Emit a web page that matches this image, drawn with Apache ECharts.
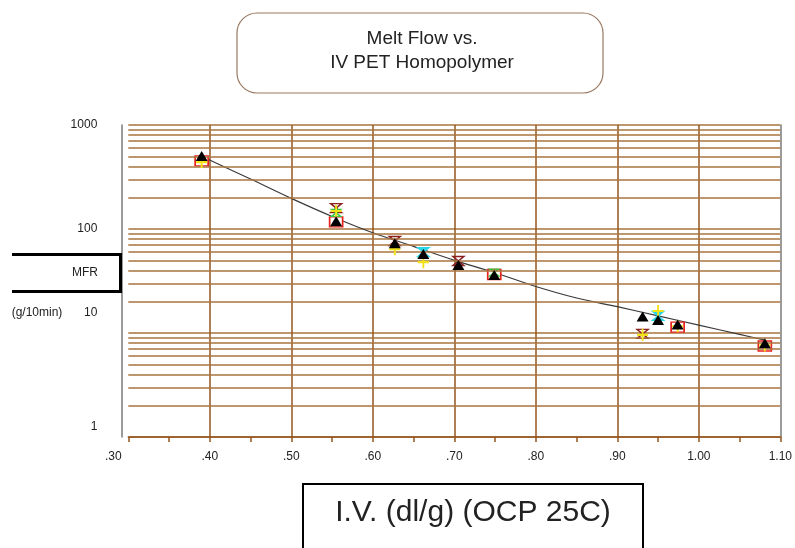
<!DOCTYPE html>
<html>
<head>
<meta charset="utf-8">
<script src="https://cdn.jsdelivr.net/npm/echarts@6/dist/echarts.min.js"></script>
<style>
  html, body { margin: 0; padding: 0; background: #fff; }
  #chart { width: 795px; height: 548px; }
</style>
</head>
<body>
<div id="chart"></div>
<script>
// black triangles (main series)
var ivTri = [0.39, 0.555, 0.627, 0.662, 0.705, 0.749, 0.931, 0.950, 0.974, 1.081];
var mfrTri = [503, 119, 72.8, 57.5, 45, 36.1, 14.4, 13.3, 12.1, 7.96];
// red open squares
var ivSquare = [0.39, 0.555, 0.749, 0.974, 1.081];
var mfrSquare = [451, 117, 36.5, 11.4, 7.5];
// yellow crosses
var ivPlus = [0.39, 0.555, 0.627, 0.662, 0.931, 0.950, 0.974, 1.081];
var mfrPlus = [440, 149, 64, 48, 9.6, 16.3, 11.6, 7.6];
// dark red hourglass
var ivHour = [0.555, 0.627, 0.705, 0.931];
var mfrHour = [159, 76.7, 49.2, 9.8];
// cyan marks
var ivCyan = [0.662, 0.950];
var mfrCyan = [60, 14.6];
// green marks
var ivGreen = [0.555, 0.749];
var mfrGreen = [143, 38];
// trend line
var fitIV = [0.39, 0.45, 0.50, 0.55, 0.60, 0.65, 0.70, 0.75, 0.80, 0.85, 0.90, 0.95, 1.00, 1.05, 1.08];
var fitMFR = [500, 302, 197, 132, 92, 68, 50, 38, 28, 21.7, 17.9, 14.6, 11.9, 9.7, 8.6];
// log paper lines between decades
var minorGrid = [2, 3, 4, 5, 6, 7, 8, 9, 20, 30, 40, 50, 60, 70, 80, 90, 200, 300, 400, 500, 600, 700, 800, 900];

function pairs(xs, ys) {
  var out = [];
  for (var i = 0; i < xs.length; i++) out.push([xs[i], ys[i]]);
  return out;
}

var hLine = '#a8743f';
var vLine = '#94561c';
var txt = '#222';
var font = 'Liberation Sans, Arial, sans-serif';

var hourglass = 'path://M0,0L10,0L0,10L10,10Z';
var plus = 'path://M5,0L5,10M0,5L10,5';

var chart = echarts.init(document.getElementById('chart'));
var option = {
  animation: false,
  backgroundColor: '#fff',
  textStyle: { fontFamily: font },
  grid: { left: 128.3, right: 13.3, top: 125, bottom: 111, containLabel: false },
  xAxis: {
    type: 'value',
    min: 0.3,
    max: 1.1,
    interval: 0.1,
    axisLine: { show: true, lineStyle: { color: vLine, width: 1.5 } },
    axisTick: { show: true, length: 5, lineStyle: { color: vLine, width: 1.5 } },
    minorTick: { show: true, splitNumber: 2, length: 5, lineStyle: { color: vLine, width: 1.5 } },
    splitLine: { show: true, showMinLine: false, showMaxLine: false, lineStyle: { color: vLine, width: 1.5 } },
    axisLabel: {
      margin: 14,
      fontSize: 12,
      color: txt,
      fontFamily: font,
      formatter: function (v) {
        var s = v.toFixed(2);
        if (s.charAt(0) === '0') s = s.substring(1);
        if (Math.abs(v - 0.3) < 1e-6) return '{l|' + s + '}';
        return s;
      },
      rich: { l: { fontSize: 12, color: txt, fontFamily: font, padding: [0, 30, 0, 0] } }
    }
  },
  yAxis: [{
    type: 'log',
    logBase: 10,
    min: 1,
    max: 1000,
    offset: 7,
    axisLine: { show: true, lineStyle: { color: '#7a7a7a', width: 1.5 } },
    axisTick: { show: false },
    splitLine: { show: true, lineStyle: { color: hLine, width: 1.5 } },
    axisLabel: {
      margin: 24,
      fontSize: 12,
      lineHeight: 20,
      color: txt,
      fontFamily: font,
      formatter: function (v) {
        if (Math.abs(v - 10) < 1e-6) return '10\n\n';
        if (Math.abs(v - 1) < 1e-6) return '1\n';
        return String(Math.round(v));
      }
    }
  }, {
    type: 'log',
    logBase: 10,
    min: 1,
    max: 1000,
    position: 'right',
    axisLine: { show: true, lineStyle: { color: '#7a7a7a', width: 1.5 } },
    axisTick: { show: false },
    axisLabel: { show: false },
    splitLine: { show: false }
  }],
  series: [{
    name: 'fit',
    type: 'line',
    data: pairs(fitIV, fitMFR),
    smooth: 0.3,
    showSymbol: false,
    symbol: 'none',
    lineStyle: { color: '#3a3a3a', width: 1.2 },
    z: 2,
    markLine: {
      silent: true,
      symbol: ['none', 'none'],
      label: { show: false },
      lineStyle: { type: 'solid', color: hLine, width: 1.5 },
      data: minorGrid.map(function (v) { return { yAxis: v }; })
    }
  }, {
    name: 'squares',
    type: 'scatter',
    data: pairs(ivSquare, mfrSquare),
    symbol: 'rect',
    symbolSize: [13, 10],
    itemStyle: { color: '#fff', borderColor: '#e8231c', borderWidth: 1.5, opacity: 1 },
    z: 3
  }, {
    name: 'hourglass',
    type: 'scatter',
    data: pairs(ivHour, mfrHour),
    symbol: hourglass,
    symbolSize: [11, 9],
    itemStyle: { color: 'rgba(0,0,0,0)', borderColor: '#8b1e1e', borderWidth: 1.5, opacity: 1 },
    z: 4
  }, {
    name: 'cyan',
    type: 'scatter',
    data: pairs(ivCyan, mfrCyan),
    symbol: hourglass,
    symbolSize: [11, 9],
    itemStyle: { color: '#28d6e8', borderColor: '#28d6e8', borderWidth: 1.5, opacity: 1 },
    z: 4
  }, {
    name: 'green',
    type: 'scatter',
    data: pairs(ivGreen, mfrGreen),
    symbol: hourglass,
    symbolSize: [9, 7],
    itemStyle: { color: 'rgba(0,0,0,0)', borderColor: '#3cc83c', borderWidth: 1.5, opacity: 1 },
    z: 4
  }, {
    name: 'plus',
    type: 'scatter',
    data: pairs(ivPlus, mfrPlus),
    symbol: plus,
    symbolSize: [11, 12],
    itemStyle: { color: 'rgba(0,0,0,0)', borderColor: '#f2e21a', borderWidth: 2, opacity: 1 },
    z: 5
  }, {
    name: 'triangles',
    type: 'scatter',
    data: pairs(ivTri, mfrTri),
    symbol: 'triangle',
    symbolSize: [12, 10],
    itemStyle: { color: '#000', opacity: 1 },
    z: 6
  }],
  graphic: [{
    type: 'rect',
    shape: { x: 237, y: 13, width: 366, height: 80, r: 20 },
    style: { fill: '#fff', stroke: '#9a7a62', lineWidth: 1.2 }
  }, {
    type: 'text',
    x: 422, y: 39,
    style: { text: 'Melt Flow vs.', fontSize: 19, fontFamily: font, fill: txt, align: 'center', verticalAlign: 'middle' }
  }, {
    type: 'text',
    x: 422, y: 63,
    style: { text: 'IV PET Homopolymer', fontSize: 19, fontFamily: font, fill: txt, align: 'center', verticalAlign: 'middle' }
  }, {
    type: 'polyline',
    shape: { points: [[12, 254.5], [120.5, 254.5], [120.5, 291.5], [12, 291.5]] },
    style: { fill: 'none', stroke: '#000', lineWidth: 3 },
    z: 10
  }, {
    type: 'text',
    x: 85, y: 273,
    style: { text: 'MFR', fontSize: 12, fontFamily: font, fill: txt, align: 'center', verticalAlign: 'middle' }
  }, {
    type: 'text',
    x: 37, y: 313,
    style: { text: '(g/10min)', fontSize: 12, fontFamily: font, fill: txt, align: 'center', verticalAlign: 'middle' }
  }, {
    type: 'rect',
    shape: { x: 303, y: 484, width: 340, height: 80 },
    style: { fill: '#fff', stroke: '#000', lineWidth: 2 }
  }, {
    type: 'text',
    x: 473, y: 513,
    style: { text: 'I.V. (dl/g) (OCP 25C)', fontSize: 30, fontFamily: font, fill: txt, align: 'center', verticalAlign: 'middle' }
  }]
};
chart.setOption(option);
</script>
</body>
</html>
